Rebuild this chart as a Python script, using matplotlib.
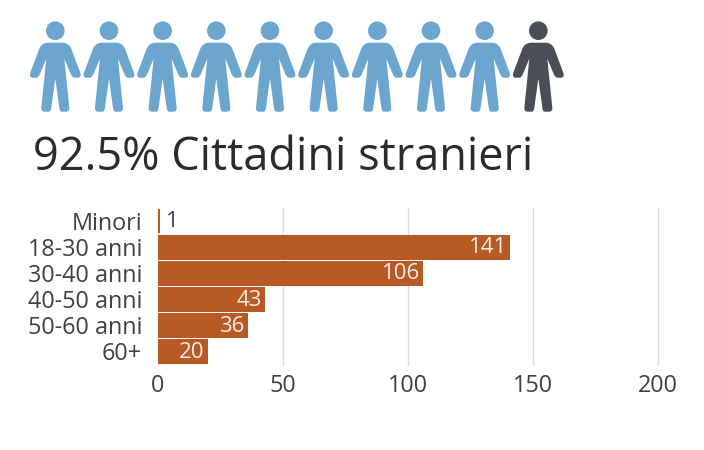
import matplotlib
matplotlib.use('Agg')
import matplotlib.pyplot as plt
from matplotlib.path import Path
from matplotlib.patches import PathPatch, Circle
from matplotlib.transforms import Affine2D

plt.rcParams['font.family'] = ['Open Sans', 'DejaVu Sans']

categories = ['Minori', '18-30 anni', '30-40 anni', '40-50 anni', '50-60 anni', '60+']
values = [1, 141, 106, 43, 36, 20]
x_ticks = [0, 50, 100, 150, 200]
n_icons = 10
n_blue = 9
title = '92.5% Cittadini stranieri'

BLUE = '#6CA5CD'
DARK = '#4A4F57'
BAR = '#B85A24'
TEXT = '#404040'
W, H = 704, 450


def person_path():
    # half outline in px, centre x = 0, y = 0 at shoulder line
    C3, C2 = Path.CURVE3, Path.LINETO
    verts = [(0, 0), (-7, 0), (-13.5, 0), (-16, 6), (-25, 30), (-26.5, 35), (-22.5, 35), (-19, 35),
             (-17, 35), (-15.5, 31.5), (-9, 16), (-14, 65), (-14.3, 69), (-10.5, 69), (-6.5, 69),
             (-4.5, 69), (-4, 65), (0, 36)]
    codes = [Path.MOVETO, C2, C3, C3, C2, C3, C3, C2, C3, C3, C2, C2, C3, C3, C2, C3, C3, C2]
    right = [(-x, y) for x, y in verts[::-1][1:]]
    rcodes = [Path.LINETO if c == C2 or c == Path.MOVETO else C3 for c in codes[::-1][:-1]]
    return Path(verts + right, codes + rcodes)


fig = plt.figure(figsize=(W / 100, H / 100), dpi=100)

# overlay in pixel coordinates for the pictogram and the heading
bg = fig.add_axes([0, 0, 1, 1])
bg.set_xlim(0, W)
bg.set_ylim(H, 0)
bg.axis('off')
shape = person_path()
for i in range(n_icons):
    cx = 55.3 + i * 53.67
    col = BLUE if i < n_blue else DARK
    bg.add_patch(Circle((cx, 30.7), 9.3, fc=col, ec='none'))
    bg.add_patch(PathPatch(shape, fc=col, ec='none',
                           transform=Affine2D().translate(cx, 42.7) + bg.transData))
bg.text(33, 158, title, fontsize=32.5, color='#2B2B2B', va='center', ha='left')

ax = fig.add_axes([157.5 / W, 1 - 364.5 / H, (658 - 157.5) / W, 156.5 / H])
ypos = range(len(categories))
ax.barh(ypos, values, height=0.95, color=BAR, zorder=3)
ax.set_xlim(0, 200)
ax.set_ylim(len(categories) - 0.5, -0.5)
ax.set_yticks(list(ypos), categories)
ax.set_xticks(x_ticks)
ax.grid(axis='x', color='#DDDDDD', lw=1, zorder=0, clip_on=False)
ax.set_axisbelow(True)
for s in ax.spines.values():
    s.set_visible(False)
ax.tick_params(length=0, labelsize=16.8, labelcolor=TEXT)
ax.tick_params(axis='y', pad=11)
ax.tick_params(axis='x', pad=7)
for y, v in zip(ypos, values):
    if v < 5:
        ax.text(v + 2.5, y + 0.03, str(v), color=TEXT, fontsize=16, va='center', ha='left', zorder=4)
    else:
        ax.text(v - 1.2, y + 0.03, str(v), color='#F5EDE6', fontsize=16, va='center', ha='right', zorder=4)

fig.savefig('out.png', dpi=100)
